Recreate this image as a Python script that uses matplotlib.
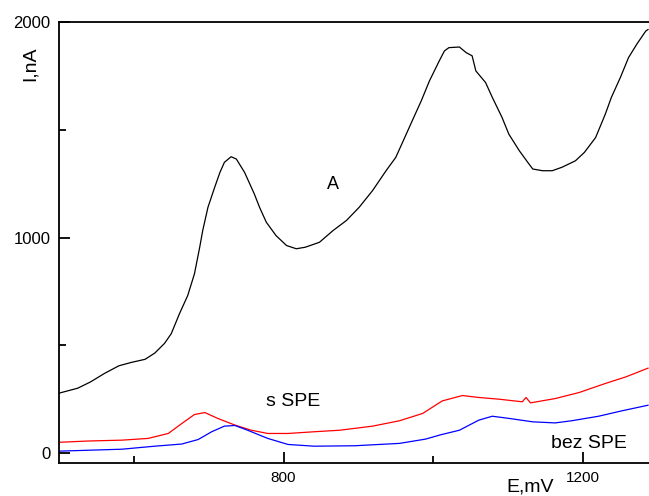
import matplotlib
matplotlib.use("Agg")
import matplotlib.pyplot as plt
from matplotlib.ticker import FixedLocator

plt.rcParams["font.family"] = ["Liberation Sans", "DejaVu Sans"]

# curve A (black)
a_e = [500, 525, 542, 561, 580, 597, 615, 628, 641, 650, 661, 672, 681, 688, 692,
       699, 708, 715, 721, 730, 737, 748, 761, 768, 777, 790, 804, 817, 829, 848,
       866, 884, 901, 919, 937, 950, 964, 972, 984, 995, 1008, 1015, 1021, 1035,
       1044, 1052, 1057, 1070, 1079, 1092, 1101, 1115, 1128, 1133, 1146, 1159,
       1172, 1190, 1202, 1217, 1230, 1238, 1250, 1261, 1272, 1284, 1287]
a_i = [278, 301, 330, 370, 405, 421, 435, 464, 509, 554, 647, 731, 832, 955, 1032,
       1140, 1233, 1302, 1349, 1375, 1364, 1302, 1202, 1140, 1071, 1009, 963, 948,
       955, 978, 1032, 1079, 1140, 1218, 1310, 1372, 1480, 1542, 1634, 1727, 1819,
       1866, 1881, 1884, 1858, 1843, 1773, 1719, 1650, 1557, 1480, 1403, 1341,
       1318, 1310, 1310, 1326, 1356, 1395, 1464, 1573, 1650, 1742, 1835, 1897,
       1958, 1965]

# s SPE (red)
s_e = [500, 539, 584, 619, 646, 664, 681, 695, 712, 735, 757, 779, 806, 841, 875,
       919, 955, 986, 1012, 1039, 1061, 1088, 1119, 1124, 1130, 1163, 1195, 1230,
       1257, 1287]
s_i = [50, 56, 60, 68, 91, 137, 179, 188, 161, 130, 106, 91, 91, 99, 106,
       125, 150, 184, 242, 267, 258, 250, 238, 258, 233, 253, 281, 323,
       353, 394]

# bez SPE (blue)
b_e = [500, 584, 628, 664, 686, 704, 721, 735, 752, 779, 806, 841, 895, 955, 990,
       1010, 1035, 1061, 1079, 1101, 1133, 1163, 1185, 1221, 1252, 1287]
b_i = [9, 18, 32, 42, 63, 99, 125, 128, 106, 68, 40, 32, 34, 45, 65,
       85, 106, 153, 171, 161, 145, 140, 150, 171, 196, 222]

fig = plt.figure(figsize=(6.49, 4.96), dpi=100)
ax = fig.add_axes([59 / 649, 1 - 463 / 496, 1 - 59 / 649 + 0.01, (463 - 22) / 496])

ax.plot(a_e, a_i, color="black", lw=0.9)
ax.plot(s_e, s_i, color="#ff0000", lw=0.9)
ax.plot(b_e, b_i, color="#0000ff", lw=0.9)

ax.set_xlim(500, 1297)
ax.set_ylim(-46, 2000)

ax.spines["right"].set_visible(False)
for s in ("left", "bottom", "top"):
    ax.spines[s].set_linewidth(1.3)

ax.xaxis.set_major_locator(FixedLocator([800, 1200]))
ax.xaxis.set_minor_locator(FixedLocator([600, 1000]))
ax.yaxis.set_major_locator(FixedLocator([0, 1000, 2000]))
ax.yaxis.set_minor_locator(FixedLocator([500, 1500]))
ax.tick_params(which="both", direction="in", width=1.3, top=False, right=False)
ax.tick_params(which="major", length=8)
ax.tick_params(which="minor", length=5)
ax.tick_params(axis="y", labelsize=12, pad=6)
ax.set_xticklabels(["800", "1200"])
ax.tick_params(axis="x", labelsize=11, pad=6)

ax.text(-0.048, 0.905, "I,nA", transform=ax.transAxes, rotation=90,
        fontsize=14, ha="center", va="center")
ax.text(0.79, -0.055, "E,mV", transform=ax.transAxes,
        fontsize=14, ha="center", va="center")

ax.text(866, 1245, "A", fontsize=13, ha="center", va="center")
ax.text(813, 238, "s SPE", fontsize=14, ha="center", va="center")
ax.text(1208, 46, "bez SPE", fontsize=14, ha="center", va="center")

fig.savefig("out.png", dpi=100)
